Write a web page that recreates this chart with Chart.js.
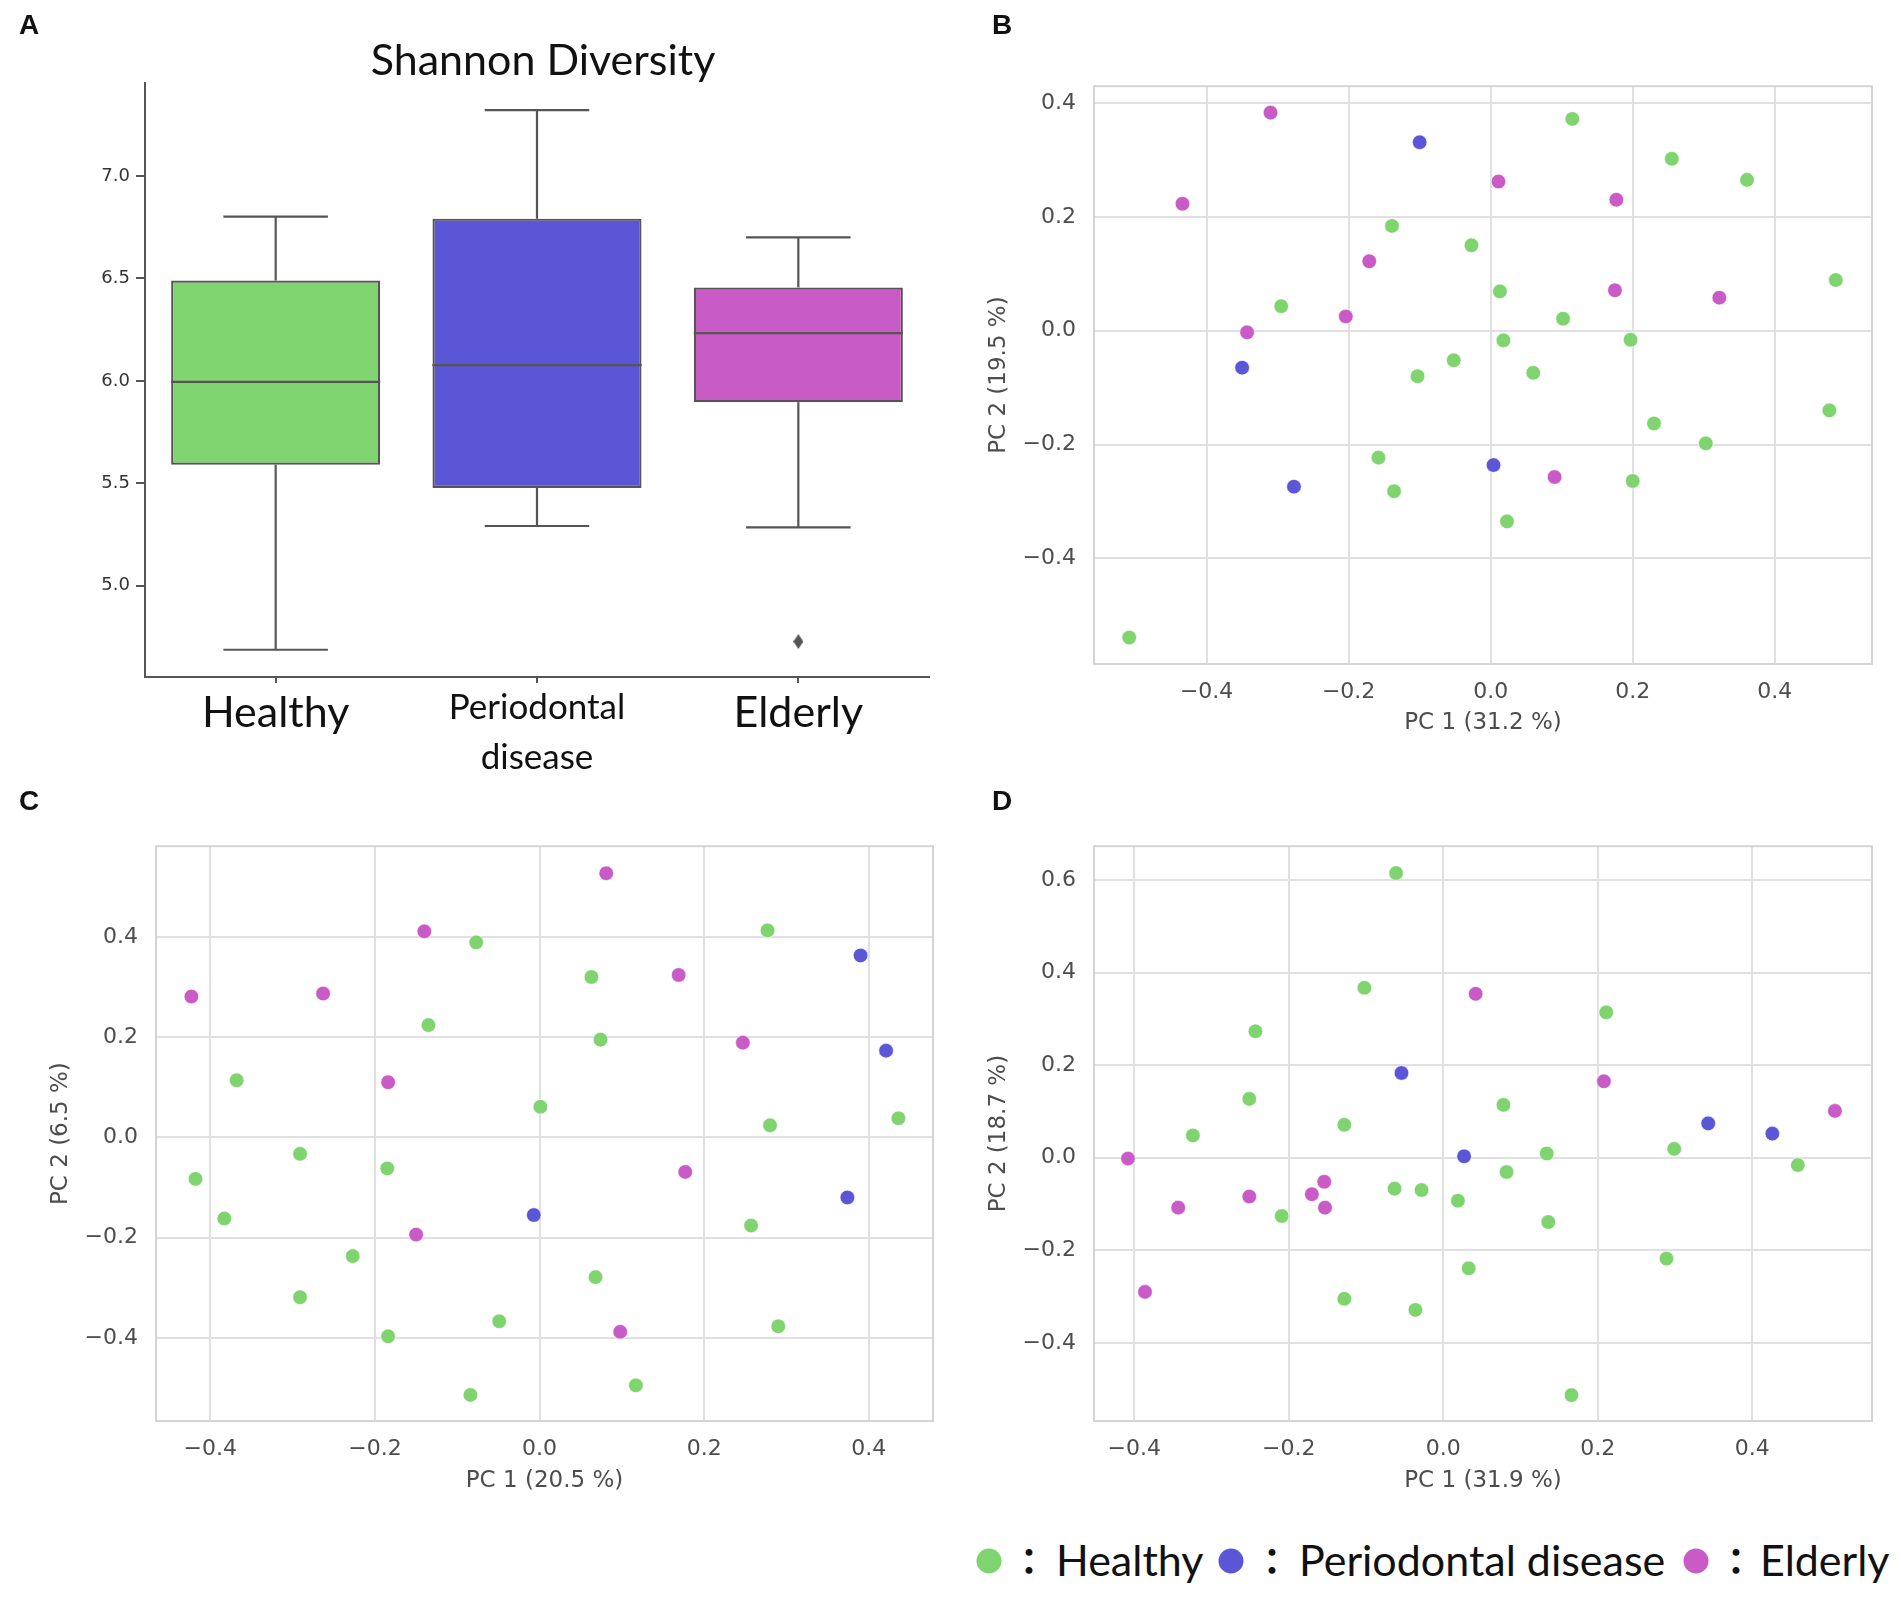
<!DOCTYPE html>
<html>
<head>
<meta charset="utf-8">
<script src="https://cdn.jsdelivr.net/npm/chart.js@4"></script>
<style>
  html, body { margin:0; padding:0; background:#ffffff; }
  #page { position:relative; width:1901px; height:1598px; overflow:hidden; background:#fff; }
  canvas { position:absolute; }
  .plabel { position:absolute; font-family:"Liberation Sans", Arial, sans-serif; font-weight:bold; font-size:28px; color:#111; line-height:1; transform:translate(-50%,-50%); }
  .lg { position:absolute; font-family:Lato, "Open Sans", sans-serif; font-size:43px; color:#111; line-height:1; white-space:nowrap; }
  .dot { position:absolute; width:25px; height:25px; border-radius:50%; transform:translate(-50%,-50%); }
  .colon { position:absolute; font-family:"Noto Sans CJK JP", sans-serif; font-weight:bold; font-size:36px; line-height:1; color:#111; transform:translate(-50%,-50%); }
</style>
</head>
<body>
<div id="page">
  <canvas id="cA" width="1086" height="800" style="left:0px;top:0px;width:1086px;height:800px;"></canvas>
  <canvas id="cB" width="940" height="695" style="left:955px;top:55px;width:940px;height:695px;"></canvas>
  <canvas id="cC" width="940" height="690" style="left:10px;top:815px;width:940px;height:690px;"></canvas>
  <canvas id="cD" width="940" height="690" style="left:955px;top:815px;width:940px;height:690px;"></canvas>

  <div class="plabel" style="left:29px;top:25px;">A</div>
  <div class="plabel" style="left:1002px;top:25px;">B</div>
  <div class="plabel" style="left:29px;top:801px;">C</div>
  <div class="plabel" style="left:1002px;top:801px;">D</div>

  <div id="legend"></div>
</div>

<script>
// ---------------- DATA ----------------
const groups = ['Healthy', 'Periodontal disease', 'Elderly'];
const groupColors = ['#7fd46f', '#5a56d6', '#c95bc6'];

// Panel A: Shannon diversity box plot
const boxLabels = ['Healthy', ['Periodontal', 'disease'], 'Elderly'];
const whiskerLow  = [4.688, 5.292, 5.285];
const q1          = [5.591, 5.478, 5.896];
const median      = [5.995, 6.077, 6.233];
const q3          = [6.490, 6.792, 6.456];
const whiskerHigh = [6.802, 7.322, 6.701];
const outliers    = [null, null, 4.728];
const yTicksA     = [5.0, 5.5, 6.0, 6.5, 7.0];

// Panel B: PCoA (PC1 31.2 %, PC2 19.5 %)
const B_healthy = [[0.115,0.372],[0.255,0.302],[0.361,0.265],[-0.139,0.184],[-0.027,0.150],[0.486,0.089],[0.013,0.069],[-0.295,0.043],[0.102,0.021],[0.018,-0.017],[0.197,-0.016],[-0.052,-0.052],[0.060,-0.074],[-0.103,-0.080],[0.477,-0.140],[0.230,-0.163],[0.303,-0.198],[-0.158,-0.223],[-0.136,-0.282],[0.200,-0.264],[0.023,-0.335],[-0.509,-0.539]];
const B_perio   = [[-0.100,0.331],[-0.350,-0.065],[-0.277,-0.274],[0.004,-0.236]];
const B_elderly = [[-0.310,0.383],[-0.434,0.223],[0.011,0.262],[0.177,0.230],[-0.171,0.122],[0.175,0.071],[0.322,0.058],[-0.204,0.025],[-0.343,-0.003],[0.090,-0.257]];

// Panel C: PCoA (PC1 20.5 %, PC2 6.5 %)
const C_healthy = [[0.277,0.413],[-0.077,0.389],[0.063,0.320],[-0.135,0.224],[0.074,0.195],[-0.368,0.114],[0.001,0.061],[0.436,0.038],[0.280,0.024],[-0.291,-0.033],[-0.185,-0.062],[-0.418,-0.083],[-0.383,-0.162],[0.257,-0.176],[-0.227,-0.237],[0.068,-0.279],[-0.291,-0.319],[-0.049,-0.367],[-0.184,-0.397],[0.290,-0.377],[-0.084,-0.514],[0.117,-0.495]];
const C_perio   = [[0.390,0.363],[0.421,0.173],[0.374,-0.120],[-0.007,-0.155]];
const C_elderly = [[0.081,0.527],[-0.140,0.411],[-0.423,0.281],[-0.263,0.287],[0.169,0.324],[0.247,0.189],[-0.184,0.110],[0.177,-0.069],[-0.150,-0.194],[0.098,-0.388]];

// Panel D: PCoA (PC1 31.9 %, PC2 18.7 %)
const D_healthy = [[-0.061,0.615],[-0.102,0.367],[0.211,0.314],[-0.243,0.273],[-0.251,0.127],[0.078,0.114],[-0.128,0.071],[-0.324,0.048],[0.134,0.009],[0.299,0.019],[0.459,-0.016],[0.082,-0.031],[-0.063,-0.067],[-0.028,-0.070],[0.019,-0.093],[-0.209,-0.126],[0.136,-0.139],[0.289,-0.218],[0.033,-0.239],[-0.128,-0.305],[-0.036,-0.329],[0.166,-0.513]];
const D_perio   = [[-0.054,0.183],[0.027,0.003],[0.343,0.074],[0.426,0.052]];
const D_elderly = [[0.042,0.354],[0.208,0.165],[0.507,0.101],[-0.408,-0.002],[-0.154,-0.052],[-0.170,-0.079],[-0.153,-0.108],[-0.251,-0.084],[-0.343,-0.108],[-0.386,-0.290]];

const ticksPM4 = [-0.4, -0.2, 0.0, 0.2, 0.4];
const ticksD_y = [-0.4, -0.2, 0.0, 0.2, 0.4, 0.6];

// ---------------- HELPERS ----------------
function fmt(v) {
  if (Math.abs(v) < 1e-9) return '0.0';
  const s = Math.abs(v).toFixed(1);
  return v < 0 ? '\u2212' + s : s;
}
function toPts(arr) { return arr.map(p => ({x: p[0], y: p[1]})); }

// thin diamond marker (seaborn 'd' flier)
function diamondMarker() {
  const c = document.createElement('canvas');
  c.width = 10; c.height = 15;
  const g = c.getContext('2d');
  g.fillStyle = '#555555';
  g.beginPath();
  g.moveTo(5, 0); g.lineTo(10, 7.5); g.lineTo(5, 15); g.lineTo(0, 7.5);
  g.closePath(); g.fill();
  return c;
}

const framePlugin = {
  id: 'frame',
  beforeDatasetsDraw(chart) {
    const {ctx, chartArea: a} = chart;
    ctx.save();
    ctx.strokeStyle = '#d4d4d4';
    ctx.lineWidth = 2;
    ctx.strokeRect(a.left, a.top, a.right - a.left, a.bottom - a.top);
    ctx.restore();
  }
};

const boxPlugin = {
  id: 'boxparts',
  afterDatasetsDraw(chart) {
    const {ctx} = chart;
    const xs = chart.scales.x, ys = chart.scales.y;
    const meta = chart.getDatasetMeta(0);
    ctx.save();
    ctx.strokeStyle = '#555555';
    ctx.lineWidth = 2.2;
    ctx.lineCap = 'butt';
    for (let i = 0; i < q1.length; i++) {
      const cx = xs.getPixelForValue(i);
      const w = meta.data[i].width;
      const yl = ys.getPixelForValue(whiskerLow[i]);
      const yq1 = ys.getPixelForValue(q1[i]);
      const yq3 = ys.getPixelForValue(q3[i]);
      const yh = ys.getPixelForValue(whiskerHigh[i]);
      const ym = ys.getPixelForValue(median[i]);
      ctx.beginPath();
      ctx.moveTo(cx, yl); ctx.lineTo(cx, yq1);
      ctx.moveTo(cx, yq3); ctx.lineTo(cx, yh);
      ctx.moveTo(cx - w / 4, yl); ctx.lineTo(cx + w / 4, yl);
      ctx.moveTo(cx - w / 4, yh); ctx.lineTo(cx + w / 4, yh);
      ctx.moveTo(cx - w / 2, ym); ctx.lineTo(cx + w / 2, ym);
      ctx.stroke();
    }
    ctx.restore();
  }
};

function drawA() {
  const tickFontBig = {family: 'Lato', size: 43, lineHeight: 1.38};
  const tickFontSmall = {family: 'Lato', size: 35, lineHeight: 1.43};
  new Chart(document.getElementById('cA'), {
    type: 'bar',
    data: {
      labels: boxLabels,
      datasets: [
        {
          type: 'bar',
          data: q1.map((v, i) => [v, q3[i]]),
          backgroundColor: groupColors,
          borderColor: '#555555',
          borderWidth: 2.2,
          borderSkipped: false,
          barPercentage: 0.8,
          categoryPercentage: 1.0,
          yAxisID: 'y'
        },
        {
          type: 'line',
          data: outliers,
          showLine: false,
          pointStyle: diamondMarker(),
          pointRadius: 6,
          yAxisID: 'y'
        }
      ]
    },
    options: {
      responsive: false,
      animation: false,
      devicePixelRatio: 1,
      events: [],
      layout: {padding: 0},
      plugins: {
        legend: {display: false},
        tooltip: {enabled: false},
        title: {
          display: true,
          text: 'Shannon Diversity',
          color: '#111111',
          font: {family: 'Lato', size: 43, weight: 'normal', lineHeight: 1.0},
          padding: {top: 40, bottom: 0}
        }
      },
      scales: {
        x: {
          offset: true,
          grid: {display: true, drawOnChartArea: false, drawTicks: true, tickLength: 6, color: '#555555', lineWidth: 2, offset: false},
          border: {display: true, color: '#555555', width: 2},
          ticks: {
            color: '#111111',
            padding: 0,
            maxRotation: 0,
            autoSkip: false,
            font: (c) => (c.index === 1 ? tickFontSmall : tickFontBig)
          },
          afterFit: (s) => { s.height = 123; }
        },
        y: {
          min: 4.555,
          max: 7.454,
          grid: {display: true, drawOnChartArea: false, drawTicks: true, tickLength: 9, color: '#555555', lineWidth: 2},
          border: {display: true, color: '#555555', width: 2},
          ticks: {color: '#333333', padding: 6, font: {family: 'DejaVu Sans', size: 18}, callback: (v) => Number(v).toFixed(1)},
          afterBuildTicks: (s) => { s.ticks = yTicksA.map(v => ({value: v})); },
          afterFit: (s) => { s.width = 145; }
        },
        yR: {
          position: 'right',
          display: true,
          grid: {display: false},
          border: {display: false},
          ticks: {display: false},
          afterFit: (s) => { s.width = 157; }
        }
      }
    },
    plugins: [boxPlugin]
  });
}

function drawScatter(id, sets, cfg) {
  const tickFont = {family: 'DejaVu Sans', size: 22};
  const titleFont = {family: 'DejaVu Sans', size: 23, lineHeight: 1.2};
  new Chart(document.getElementById(id), {
    type: 'scatter',
    data: {
      datasets: sets.map((arr, i) => ({
        label: groups[i],
        data: toPts(arr),
        backgroundColor: groupColors[i],
        borderColor: '#ffffff',
        borderWidth: 0.6,
        pointRadius: 7.3
      }))
    },
    options: {
      responsive: false,
      animation: false,
      devicePixelRatio: 1,
      events: [],
      layout: {padding: {top: cfg.padTop, right: cfg.padRight, bottom: 0, left: 0}},
      plugins: {legend: {display: false}, tooltip: {enabled: false}, title: {display: false}},
      scales: {
        x: {
          type: 'linear',
          min: cfg.xMin, max: cfg.xMax,
          grid: {color: '#e0e0e0', lineWidth: 2, drawTicks: false},
          border: {display: false},
          ticks: {color: '#4d4d4d', font: tickFont, padding: 15, callback: (v) => fmt(v)},
          afterBuildTicks: (s) => { s.ticks = cfg.xTicks.map(v => ({value: v})); },
          title: {display: true, text: cfg.xTitle, color: '#4d4d4d', font: titleFont, padding: {top: 0, bottom: cfg.xTitlePad}},
          afterFit: (s) => { s.height = cfg.xAxisH; }
        },
        y: {
          type: 'linear',
          min: cfg.yMin, max: cfg.yMax,
          grid: {color: '#e0e0e0', lineWidth: 2, drawTicks: false},
          border: {display: false},
          ticks: {color: '#4d4d4d', font: tickFont, padding: 18, callback: (v) => fmt(v)},
          afterBuildTicks: (s) => { s.ticks = cfg.yTicks.map(v => ({value: v})); },
          title: {display: true, text: cfg.yTitle, color: '#4d4d4d', font: titleFont, padding: {top: cfg.yTitlePad, bottom: 0}},
          afterFit: (s) => { s.width = cfg.yAxisW; }
        }
      }
    },
    plugins: [framePlugin]
  });
}

function buildLegend() {
  const lg = document.getElementById('legend');
  const items = [
    {dot: 989, colon: 1029, text: 1056, label: 'Healthy'},
    {dot: 1231, colon: 1272, text: 1299, label: 'Periodontal disease'},
    {dot: 1696, colon: 1736, text: 1760, label: 'Elderly'}
  ];
  const cy = 1561;
  items.forEach((it, i) => {
    const d = document.createElement('div');
    d.className = 'dot';
    d.style.left = it.dot + 'px';
    d.style.top = cy + 'px';
    d.style.background = groupColors[i];
    lg.appendChild(d);
    const c = document.createElement('div');
    c.className = 'colon';
    c.style.left = it.colon + 'px';
    c.style.top = (cy - 2) + 'px';
    c.textContent = '\uFF1A';
    lg.appendChild(c);
    const t = document.createElement('div');
    t.className = 'lg';
    t.style.left = it.text + 'px';
    t.style.top = Math.round(cy - 0.527 * 43) + 'px';
    t.textContent = it.label;
    lg.appendChild(t);
  });
}

function drawAll() {
  drawA();
  drawScatter('cB', [B_healthy, B_perio, B_elderly], {
    xMin: -0.5586, xMax: 0.537, yMin: -0.5855, yMax: 0.4295,
    xTicks: ticksPM4, yTicks: ticksPM4,
    xTitle: 'PC 1 (31.2 %)', yTitle: 'PC 2 (19.5 %)',
    padTop: 30, padRight: 23, yAxisW: 139, xAxisH: 86, yTitlePad: 30, xTitlePad: 13
  });
  drawScatter('cC', [C_healthy, C_perio, C_elderly], {
    xMin: -0.466, xMax: 0.478, yMin: -0.566, yMax: 0.581,
    xTicks: ticksPM4, yTicks: ticksPM4,
    xTitle: 'PC 1 (20.5 %)', yTitle: 'PC 2 (6.5 %)',
    padTop: 29, padRight: 17, yAxisW: 146, xAxisH: 84, yTitlePad: 37, xTitlePad: 10
  });
  drawScatter('cD', [D_healthy, D_perio, D_elderly], {
    xMin: -0.452, xMax: 0.555, yMin: -0.569, yMax: 0.673,
    xTicks: ticksPM4, yTicks: ticksD_y,
    xTitle: 'PC 1 (31.9 %)', yTitle: 'PC 2 (18.7 %)',
    padTop: 29, padRight: 23, yAxisW: 139, xAxisH: 84, yTitlePad: 30, xTitlePad: 10
  });
  buildLegend();
}

const fontLoads = [
  document.fonts.load('43px Lato'),
  document.fonts.load('20px "DejaVu Sans"'),
  document.fonts.load('bold 28px "Liberation Sans"')
];
Promise.all(fontLoads).then(drawAll, drawAll);
</script>
</body>
</html>
